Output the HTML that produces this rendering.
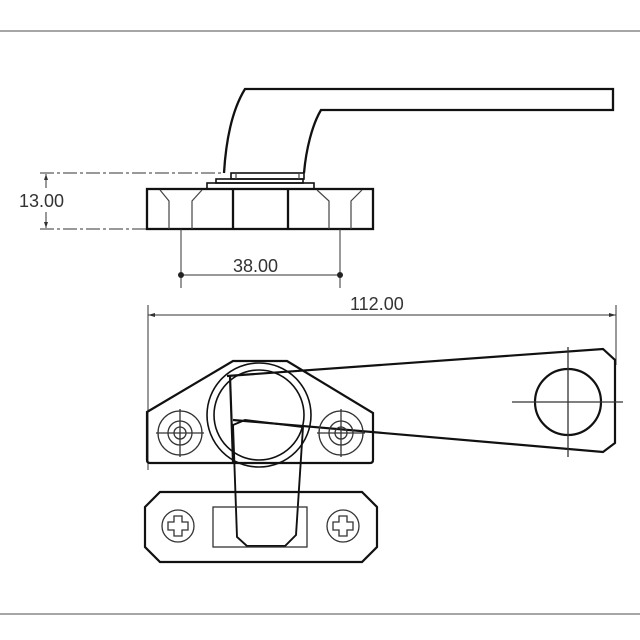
<!DOCTYPE html>
<html><head><style>body{margin:0;background:#fff}svg{display:block}</style></head><body>
<svg width="640" height="640" viewBox="0 0 640 640" xmlns="http://www.w3.org/2000/svg" font-family="Liberation Sans, sans-serif">
<line x1="0" y1="31" x2="640" y2="31" stroke="#888" stroke-width="1.5"/>
<line x1="0" y1="614" x2="640" y2="614" stroke="#888" stroke-width="1.5"/>
<g fill="none" stroke="#111" stroke-width="2.3">
<path d="M224 173 C226 140 232 110 245 89 L613 89 L613 110 L321 110 C312 125 306 150 304 173"/>
<rect x="231" y="173" width="73" height="6" stroke-width="1.6"/>
<rect x="216" y="179" width="87" height="4" stroke-width="1.6"/>
<rect x="207" y="183" width="107" height="6" stroke-width="1.6"/>
<rect x="147" y="189" width="226" height="40"/>
<line x1="233" y1="189" x2="233" y2="229"/>
<line x1="288" y1="189" x2="288" y2="229"/>
</g>
<g fill="none" stroke="#444" stroke-width="1.2">
<line x1="236" y1="173" x2="236" y2="179"/><line x1="299" y1="173" x2="299" y2="179"/>
<path d="M160 190 L169 201 L169 229 M202 190 L192 201 L192 229 M317 190 L329 201 L329 229 M362 190 L351 201 L351 229"/>
</g>
<g stroke="#333" stroke-width="1" fill="none">
<line x1="40" y1="173" x2="224" y2="173" stroke-dasharray="14 3 3 3"/>
<line x1="40" y1="229" x2="147" y2="229" stroke-dasharray="14 3 3 3"/>
<line x1="46" y1="174" x2="46" y2="188"/><line x1="46" y1="212" x2="46" y2="228"/>
<line x1="181" y1="229" x2="181" y2="288"/><line x1="340" y1="229" x2="340" y2="288"/>
<line x1="181" y1="275" x2="340" y2="275"/>
<line x1="148" y1="305" x2="148" y2="470"/><line x1="616" y1="305" x2="616" y2="365"/>
<line x1="148" y1="315" x2="616" y2="315"/>
</g>
<path d="M44 180 L46 174 L48 180Z M44 222 L46 228 L48 222Z M155 313 L148 315 L155 317Z M609 313 L616 315 L609 317Z" fill="#333"/>
<circle cx="181" cy="275" r="3" fill="#222"/><circle cx="340" cy="275" r="3" fill="#222"/>
<g fill="#333" font-size="18">
<text x="19" y="207">13.00</text>
<text x="233" y="272">38.00</text>
<text x="350" y="310">112.00</text>
</g>
<g fill="none" stroke="#111" stroke-width="2.2">
<path d="M147 412 L233 361 L287 361 L373 413 L373 460 Q373 463 370 463 L150 463 Q147 463 147 460 Z"/>
<circle cx="259" cy="415" r="52" stroke-width="1.6"/>
<circle cx="259" cy="415" r="45" stroke-width="1.6"/>
<path d="M227 376 L603 349 L615 360 L615 443 L603 452 L233 420"/>
<circle cx="568" cy="402" r="33"/>
<path d="M230 376 L233 462"/>
<path d="M233 425 L245 420 L303 427 L296 535 L285 546 L247 546 L237 537 Z" stroke-width="1.9"/>
<path d="M145 507 L160 492 L362 492 L377 507 L377 547 L362 562 L160 562 L145 547 Z"/>
</g>
<g fill="none" stroke="#333" stroke-width="1.3">
<circle cx="180" cy="433" r="22"/><circle cx="180" cy="433" r="12"/><circle cx="180" cy="433" r="6"/>
<line x1="156" y1="433" x2="204" y2="433"/><line x1="180" y1="409" x2="180" y2="457"/>
<circle cx="341" cy="433" r="22"/><circle cx="341" cy="433" r="12"/><circle cx="341" cy="433" r="6"/>
<line x1="317" y1="433" x2="365" y2="433"/><line x1="341" y1="409" x2="341" y2="457"/>
<line x1="512" y1="402" x2="623" y2="402"/><line x1="568" y1="347" x2="568" y2="457"/>
<rect x="213" y="507" width="94" height="40"/>
<circle cx="178" cy="526" r="16"/><circle cx="343" cy="526" r="16"/>
<path d="M174 516 h8 v6 h6 v8 h-6 v6 h-8 v-6 h-6 v-8 h6z"/>
<path d="M339 516 h8 v6 h6 v8 h-6 v6 h-8 v-6 h-6 v-8 h6z"/>
</g>
</svg>
</body></html>
